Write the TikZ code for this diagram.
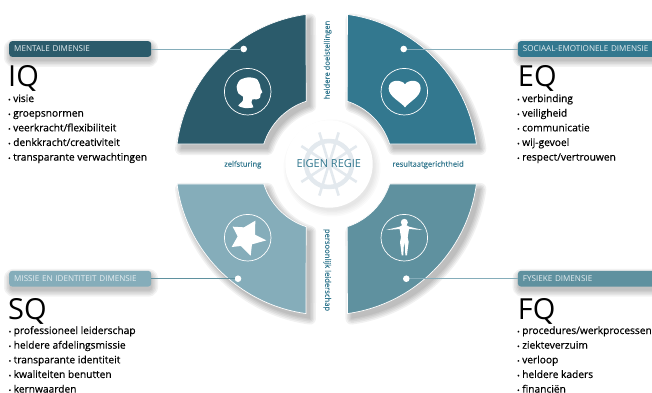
\documentclass[tikz,border=0pt]{standalone}
\usepackage{fontspec}
\setmainfont{Open Sans}
\newfontfamily\listfont[FakeBold=0.4]{Open Sans}
\newfontfamily\labfont[FakeBold=0.3]{Open Sans}
\definecolor{colA}{HTML}{2B5B6B}
\definecolor{colB}{HTML}{33788F}
\definecolor{colC}{HTML}{85ADBA}
\definecolor{colD}{HTML}{5F919F}
\definecolor{wheelc}{HTML}{E3E9EE}
\definecolor{barText}{HTML}{E6EEF1}
\tikzset{
  barbox/.style={rounded corners=3pt,minimum height=15.7pt,inner xsep=5pt,inner ysep=0pt,align=left,anchor=west,text=barText,font=\fontsize{8.1}{9}\selectfont},
  dotmark/.style={circle,fill=white,inner sep=0pt,minimum size=6.6pt},
  headline/.style={anchor=base west,inner sep=0pt,font=\fontsize{29}{32}\selectfont,text=black},
  item/.style={anchor=base west,inner sep=0pt,font=\listfont\fontsize{10.2}{11}\selectfont,text=black},
  sidelabel/.style={inner sep=0pt,font=\labfont\fontsize{7.6}{9}\selectfont,text=colB},
  sector/.style={draw=white,line width=.7pt,line join=miter},
  iconring/.style={draw=white,line width=.7pt,fill=none,circle,minimum size=46.6pt,inner sep=0pt},
  iconfill/.style={fill=white,draw=none},
  lead/.style={line width=.7pt}
}
\newcommand{\softshadow}[4]{%
  \foreach \w in {12,9,6,3,.2}{%
    \begin{scope}[shift={(#1,#2)},transparency group,opacity=#3]
      \fill[black,draw=black,line width=\w pt,line join=round] #4;
    \end{scope}}}
\newcommand{\sectorpath}[4]{(#1:151) arc[start angle=#1,end angle=#2,radius=151] -- (#3:66) arc[start angle=#3,end angle=#4,radius=66] -- cycle}
\newcommand{\bul}{\makebox[5pt][l]{\fontsize{6.5}{7}\selectfont•}}
\newcommand{\listblock}[4]{%
  \foreach \t [count=\i from 0] in {#4}{%
    \node[item] (#1\i) at (#2,{#3+14.65*\i}) {\bul\t};}}
\begin{document}
\begin{tikzpicture}[x=1pt,y=-1pt]
\path[use as bounding box,fill=white] (0,0) rectangle (652,392);

% shadows of sectors
\begin{scope}[shift={(326.7,164)}]
\softshadow{4}{5}{.055}{\sectorpath{-97.9}{-172.4}{-162.4}{-108.1}}
\softshadow{4}{5}{.055}{\sectorpath{-82.1}{-7.6}{-17.6}{-71.9}}
\softshadow{4}{5}{.055}{\sectorpath{97.9}{172.4}{162.4}{108.1}}
\softshadow{4}{5}{.055}{\sectorpath{82.1}{7.6}{17.6}{71.9}}
\fill[colA,sector] \sectorpath{-97.9}{-172.4}{-162.4}{-108.1};
\fill[colB,sector] \sectorpath{-82.1}{-7.6}{-17.6}{-71.9};
\fill[colC,sector] \sectorpath{97.9}{172.4}{162.4}{108.1};
\fill[colD,sector] \sectorpath{82.1}{7.6}{17.6}{71.9};
\end{scope}

% centre disc
\softshadow{3}{4}{.018}{(329,164) circle[radius=42.5]}
\fill[white] (329,164) circle[radius=43.7];
\begin{scope}[shift={(329,164)}]
  \draw[wheelc,line width=4.5pt] (0,0) circle[radius=23];
  \foreach \a in {73,107,147,33,-33,-73,-107,-147}
    \draw[wheelc,line width=2.6pt] (0,0) -- (\a:33);
\end{scope}
\node[inner sep=0pt,text=colB,font=\fontsize{11}{13}\selectfont] (regie) at (328.8,164) {EIGEN REGIE};

% icon rings
\node[iconring] (ringA) at (247.7,91.7) {};
\node[iconring] (ringB) at (404.3,91.7) {};
\node[iconring] (ringC) at (247.7,237.7) {};
\node[iconring] (ringD) at (404.3,237.7) {};

% head
\begin{scope}[shift={(220,65)},x=.3333pt,y=-.3333pt]
\fill[iconfill] plot[smooth cycle,tension=.45] coordinates {(55,122) (68,108) (69,95) (55,85) (50,65) (60,45) (85,37) (110,42) (120,60) (122,70) (127,82) (122,87) (120,98) (110,103) (97,103) (95,115) (100,127) (75,129)};
\end{scope}
% heart
\begin{scope}[shift={(376,65)},x=.3333pt,y=-.3333pt]
\fill[iconfill] (87,58) .. controls (95,44) and (134,40) .. (134,70) .. controls (134,95) and (100,110) .. (87,127) .. controls (74,110) and (38,95) .. (38,70) .. controls (38,40) and (79,44) .. (87,58) -- cycle;
\end{scope}
% star
\begin{scope}[shift={(220,210)},x=.3333pt,y=-.3333pt]
\fill[iconfill] (38,50) -- (72,52) -- (106,32) -- (105,74) -- (139,91) -- (96,103) -- (92,137) -- (63,108) -- (35,111) -- (53,79) -- cycle;
\end{scope}
% figure
\begin{scope}[shift={(376,210)},x=.3333pt,y=-.3333pt]
\fill[iconfill] (85,37) circle[radius=10.5];
\fill[iconfill] (81,44) -- (71,50) -- (30,60) -- (71,57) -- (73,70) -- (75,82) -- (72,96) -- (75,118) -- (77,136) -- (82,136) -- (83,112) -- (85,96) -- (87,112) -- (88,136) -- (93,136) -- (95,118) -- (98,96) -- (95,82) -- (97,70) -- (99,57) -- (140,60) -- (99,50) -- (89,44) -- cycle;
\end{scope}

% bar shadows
\softshadow{1}{4}{.05}{[rounded corners=3pt] (9,41.2) rectangle (151,56.9)}
\softshadow{1}{4}{.05}{[rounded corners=3pt] (9,270.9) rectangle (151,286.6)}
\softshadow{1}{4}{.05}{[rounded corners=3pt] (517.7,41.2) rectangle (670,56.9)}
\softshadow{1}{4}{.05}{[rounded corners=3pt] (517.7,270.9) rectangle (670,286.6)}

% label bars
\node[barbox,fill=colA,minimum width=142pt,text width=132pt] (barA) at (9,49) {MENTALE DIMENSIE};
\node[barbox,fill=colC,minimum width=142pt,text width=132pt] (barC) at (9,278.7) {MISSIE EN IDENTITEIT DIMENSIE};
\node[barbox,fill=colB,minimum width=152pt,text width=142pt] (barB) at (517.7,49) {SOCIAAL-EMOTIONELE DIMENSIE};
\node[barbox,fill=colD,minimum width=152pt,text width=142pt] (barD) at (517.7,278.7) {FYSIEKE DIMENSIE};

% dots and leads
\node[dotmark] (dotA) at (243.7,49) {};
\node[dotmark] (dotB) at (403.7,49) {};
\node[dotmark] (dotC) at (238,278.7) {};
\node[dotmark] (dotD) at (406.3,278.7) {};
\draw[lead,colC] (barA.east) -- (dotA.west);
\draw[lead,colC] (barB.west) -- (dotB.east);
\draw[lead,colD] (barC.east) -- (dotC.west);
\draw[lead,colC] (barD.west) -- (dotD.east);

% side labels
\node[sidelabel,anchor=base west] (lz) at (224,166.7) {zelfsturing};
\node[sidelabel,anchor=base west] (lr) at (392.3,166.7) {resultaatgerichtheid};
\node[sidelabel,rotate=90] (lh) at (327.7,60) {heldere doelstellingen};
\node[sidelabel,rotate=-90] (lp) at (327.2,270) {persoonlijk leiderschap};

% headings
\node[headline] (iq) at (8,86.7) {IQ};
\node[headline] (eq) at (517.7,86.7) {EQ};
\node[headline] (sq) at (8,319) {SQ};
\node[headline] (fq) at (517.7,319) {FQ};

% lists
\listblock{a}{8}{102}{visie,groepsnormen,veerkracht/flexibiliteit,denkkracht/creativiteit,transparante verwachtingen}
\listblock{b}{517}{102}{verbinding,veiligheid,communicatie,wij-gevoel,respect/vertrouwen}
\listblock{c}{8.5}{334}{professioneel leiderschap,heldere afdelingsmissie,transparante identiteit,kwaliteiten benutten,kernwaarden}
\listblock{d}{517}{334}{procedures/werkprocessen,ziekteverzuim,verloop,heldere kaders,financiën}
\end{tikzpicture}
\end{document}
